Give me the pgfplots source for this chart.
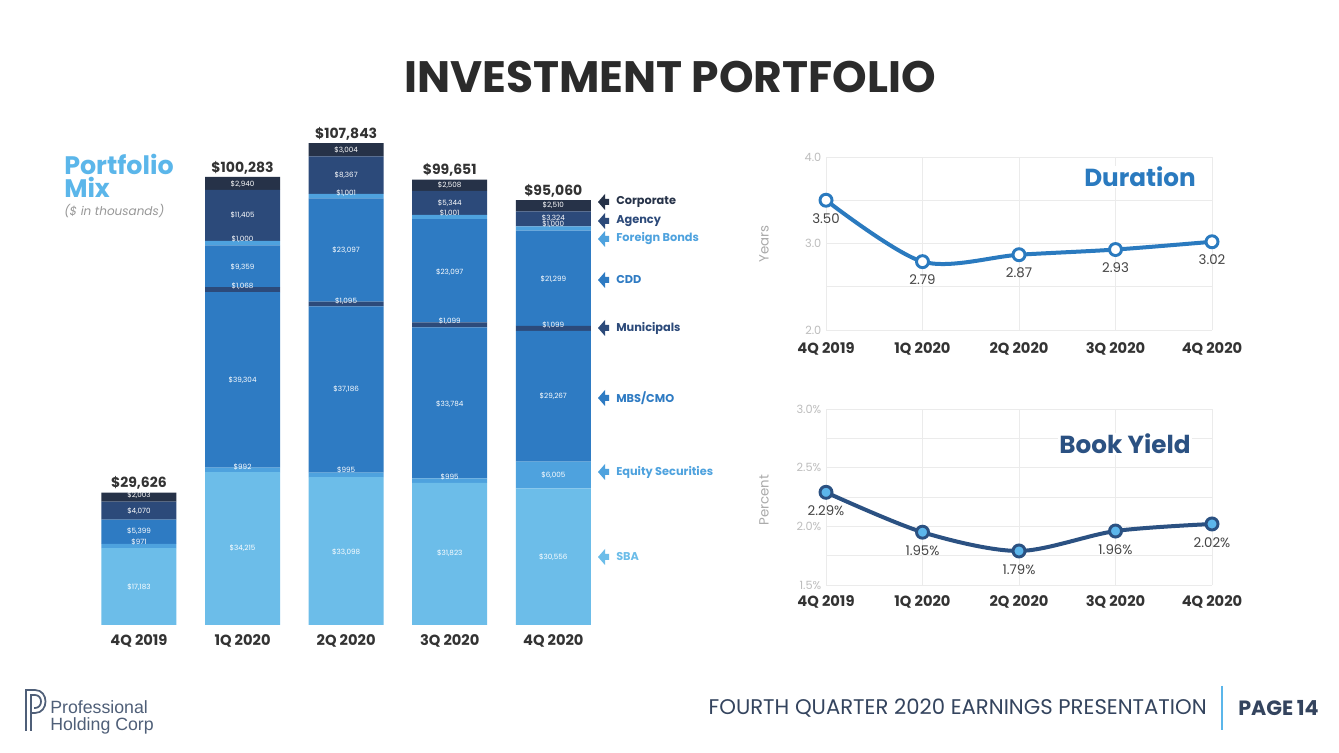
\documentclass[border=0pt]{standalone}
\usepackage{pgfplots}
\pgfplotsset{compat=1.18}
\usepackage{fontspec}
\setmainfont{Poppins}
\newfontfamily\logofont{Liberation Sans}
\definecolor{titlec}{HTML}{2B2B2B}
\definecolor{darktxt}{HTML}{333333}
\definecolor{sba}{HTML}{6CBDE9}
\definecolor{equity}{HTML}{4EA2DE}
\definecolor{mbs}{HTML}{2E7BC3}
\definecolor{muni}{HTML}{2C4A7A}
\definecolor{cdd}{HTML}{2E7BC3}
\definecolor{foreign}{HTML}{4EA2DE}
\definecolor{agency}{HTML}{2C4A7A}
\definecolor{corp}{HTML}{263248}
\definecolor{durc}{HTML}{2A7ABF}
\definecolor{byc}{HTML}{2B5182}
\definecolor{bymark}{HTML}{5CB6EB}
\definecolor{gridc}{HTML}{EBEBEB}
\definecolor{tickgray}{HTML}{BDBDBD}
\definecolor{lblue}{HTML}{5BB6EA}
\definecolor{footc}{HTML}{34445E}
\definecolor{labc}{HTML}{444444}
\definecolor{logoc}{HTML}{4F5F78}

\pgfplotstableread{
x y lab
0 29090 \$2,003
0 25500 \$4,070
0 21030 \$5,399
0 18570 \$971
0 8500 \$17,183
1 98680 \$2,940
1 91740 \$11,405
1 86370 \$1,000
1 80110 \$9,359
1 75860 \$1,068
1 54820 \$39,304
1 35350 \$992
1 17230 \$34,215
2 106290 \$3,004
2 100690 \$8,367
2 96670 \$1,001
2 83910 \$23,097
2 72500 \$1,095
2 52810 \$37,186
2 34680 \$995
2 16330 \$33,098
3 98460 \$2,508
3 94430 \$5,344
3 92190 \$1,001
3 78990 \$23,097
3 68020 \$1,099
3 49450 \$33,784
3 33120 \$995
3 16110 \$31,823
4 93980 \$2,510
4 91070 \$3,324
4 89730 \$1,000
4 77420 \$21,299
4 67130 \$1,099
4 51240 \$29,267
4 33560 \$6,005
4 15220 \$30,556
}\seglabels

\pgfplotstableread{
x y lab
0 29626 \$29,626
1 100283 \$100,283
2 107843 \$107,843
3 99651 \$99,651
4 95060 \$95,060
}\totals

\begin{document}
\begin{tikzpicture}
\begin{scope}[x=0.75pt,y=0.75pt]
\path[fill=white, use as bounding box] (0,0) rectangle (1339,753);

\node[font=\fontsize{33}{36}\selectfont\bfseries, text=titlec] at (670,676) {INVESTMENT PORTFOLIO};

% Portfolio mix title
\node[anchor=base west, inner sep=0, font=\fontsize{19}{20}\selectfont\bfseries, text=lblue] at (64,578) {Portfolio};
\node[anchor=base west, inner sep=0, font=\fontsize{19}{20}\selectfont\bfseries, text=lblue] at (64,555) {Mix};
\node[anchor=base west, inner sep=0, font=\fontsize{9}{10}\selectfont\itshape, text=tickgray!80!black] at (64,537) {(\$ in thousands)};

% legend
\foreach \yy/\cc/\tt in {551/corp/{Corporate}, 532/agency/{Agency}, 514/foreign/{Foreign Bonds}, 473/cdd/{CDD}, 425/muni/{Municipals}, 355/mbs/{MBS/CMO}, 281/equity/{Equity Securities}, 196/sba/{SBA}}{
  \fill[\cc] (598,\yy) -- (605,\yy-8) -- (605,\yy-3) -- (609,\yy-3) -- (609,\yy+3) -- (605,\yy+3) -- (605,\yy+8) -- cycle;
  \node[anchor=west, inner sep=0, font=\fontsize{8.5}{9}\selectfont\bfseries, text=\cc] at (616,\yy) {\tt};
}

\node[rotate=90, font=\fontsize{10}{11}\selectfont, text=tickgray!90!black] at (764,509) {Years};
\node[rotate=90, font=\fontsize{10}{11}\selectfont, text=tickgray!90!black] at (764,253) {Percent};

% footer
\node[anchor=east, inner sep=0, font=\fontsize{15.9}{17}\selectfont, text=footc] at (1207,45) {FOURTH QUARTER 2020 EARNINGS PRESENTATION};
\draw[lblue, line width=1.5pt] (1222,67) -- (1222,23);
\node[anchor=west, inner sep=0, font=\fontsize{15.5}{17}\selectfont\bfseries, text=footc] at (1238,45) {PAGE\,14};

% logo
\draw[logoc, line width=1.3pt] (26,22) -- (26,63) -- (35,63) .. controls (49,63) and (49,40) .. (35,40) -- (31,40);
\draw[logoc, line width=1.3pt] (31,22) -- (31,58) -- (35,58) .. controls (43,58) and (43,45) .. (35,45) -- (34,45);
\node[anchor=base west, inner sep=0, font=\logofont\fontsize{13.3}{14}\selectfont, text=logoc] at (50,39) {Professional};
\node[anchor=base west, inner sep=0, font=\logofont\fontsize{13.3}{14}\selectfont, text=logoc] at (50,22) {Holding Corp};
\end{scope}

% stacked bars
\begin{axis}[at={(57.6pt,96pt)}, anchor=south west, width=404pt, height=402.2pt, scale only axis,
  xmin=-0.6, xmax=4.6, ymin=0, ymax=120000, ybar stacked, bar width=56.25pt,
  axis line style={draw=none}, major tick length=0, ytick=\empty,
  xtick={0,1,2,3,4}, xticklabels={4Q 2019,1Q 2020,2Q 2020,3Q 2020,4Q 2020},
  xticklabel style={anchor=center, yshift=-12pt, font=\fontsize{11}{12}\selectfont\bfseries, text=darktxt},
  clip=false]
\addplot[fill=sba, draw=none] coordinates {(0,17183) (1,34215) (2,33098) (3,31823) (4,30556)};
\addplot[fill=equity, draw=none] coordinates {(0,971) (1,992) (2,995) (3,995) (4,6005)};
\addplot[fill=mbs, draw=none] coordinates {(0,5399) (1,39304) (2,37186) (3,33784) (4,29267)};
\addplot[fill=muni, draw=none] coordinates {(0,0) (1,1068) (2,1095) (3,1099) (4,1099)};
\addplot[fill=cdd, draw=none] coordinates {(0,0) (1,9359) (2,23097) (3,23097) (4,21299)};
\addplot[fill=foreign, draw=none] coordinates {(0,0) (1,1000) (2,1001) (3,1001) (4,1000)};
\addplot[fill=agency, draw=none] coordinates {(0,4070) (1,11405) (2,8367) (3,5344) (4,3324)};
\addplot[fill=corp, draw=none] coordinates {(0,2003) (1,2940) (2,3004) (3,2508) (4,2510)};
\end{axis}

% labels overlay
\begin{axis}[at={(57.6pt,96pt)}, anchor=south west, width=404pt, height=402.2pt, scale only axis,
  xmin=-0.6, xmax=4.6, ymin=0, ymax=120000, hide axis, clip=false]
\addplot[only marks, mark=none, nodes near coords, point meta=explicit symbolic,
  nodes near coords style={anchor=center, text=white, font=\fontsize{5.4}{6}\selectfont, inner sep=0}]
  table[x=x, y=y, meta=lab] {\seglabels};
\addplot[only marks, mark=none, nodes near coords, point meta=explicit symbolic,
  nodes near coords style={anchor=south, text=darktxt, font=\fontsize{10.5}{12}\selectfont\bfseries, inner sep=2pt}]
  table[x=x, y=y, meta=lab] {\totals};
\end{axis}

% Duration
\begin{axis}[at={(619.5pt,317.25pt)}, anchor=south west, width=289.5pt, height=129.75pt, scale only axis,
  xmin=0, xmax=4, ymin=2, ymax=4, xtick={0,1,2,3,4},
  xticklabels={4Q 2019,1Q 2020,2Q 2020,3Q 2020,4Q 2020},
  ytick={2,3,4}, minor ytick={2.5,3.5},
  xmajorgrids, ymajorgrids, yminorgrids,
  major grid style={draw=gridc, line width=0.6pt}, minor grid style={draw=gridc, line width=0.6pt},
  axis line style={draw=none}, major tick length=0, minor tick length=0, clip=false,
  xticklabel style={anchor=center, yshift=-14pt, font=\fontsize{11}{12}\selectfont\bfseries, text=darktxt},
  yticklabel style={text=tickgray, font=\fontsize{8.5}{9}\selectfont, /pgf/number format/.cd, fixed, fixed zerofill, precision=1, assume math mode=true}]
\addplot[smooth, line width=3pt, color=durc, mark=*, mark size=4.5pt,
  mark options={fill=white, draw=durc, line width=2.2pt},
  nodes near coords, point meta=explicit symbolic,
  nodes near coords style={anchor=center, yshift=-13.5pt, text=labc, font=\fontsize{10}{11}\selectfont}]
  table[meta=lab] {
x y lab
0 3.50 3.50
1 2.79 2.79
2 2.87 2.87
3 2.93 2.93
4 3.02 3.02
};
\end{axis}

% Book yield
\begin{axis}[at={(619.5pt,126pt)}, anchor=south west, width=289.5pt, height=132pt, scale only axis,
  xmin=0, xmax=4, ymin=1.5, ymax=3, xtick={0,1,2,3,4},
  xticklabels={4Q 2019,1Q 2020,2Q 2020,3Q 2020,4Q 2020},
  ytick={1.5,2,2.5,3}, minor ytick={1.75,2.25,2.75},
  yticklabel={\pgfmathprintnumber[fixed,fixed zerofill,precision=1,assume math mode=true]{\tick}\%},
  xmajorgrids, ymajorgrids, yminorgrids,
  major grid style={draw=gridc, line width=0.6pt}, minor grid style={draw=gridc, line width=0.6pt},
  axis line style={draw=none}, major tick length=0, minor tick length=0, clip=false,
  xticklabel style={anchor=center, yshift=-12.75pt, font=\fontsize{11}{12}\selectfont\bfseries, text=darktxt},
  yticklabel style={text=tickgray, font=\fontsize{8.5}{9}\selectfont}]
\addplot[smooth, line width=3pt, color=byc, mark=*, mark size=4.5pt,
  mark options={fill=bymark, draw=byc, line width=2.2pt},
  nodes near coords, point meta=explicit symbolic,
  nodes near coords style={anchor=center, yshift=-13.8pt, text=labc, font=\fontsize{10}{11}\selectfont}]
  table[meta=lab] {
x y lab
0 2.29 2.29\%
1 1.95 1.95\%
2 1.79 1.79\%
3 1.96 1.96\%
4 2.02 2.02\%
};
\end{axis}

\begin{scope}[x=0.75pt,y=0.75pt]
\node[fill=white, inner sep=1pt, font=\fontsize{18.5}{20}\selectfont\bfseries, text=durc] at (1140,576) {Duration};
\node[fill=white, inner sep=1pt, font=\fontsize{18.5}{20}\selectfont\bfseries, text=byc] at (1125,309) {Book Yield};
\end{scope}
\end{tikzpicture}
\end{document}
